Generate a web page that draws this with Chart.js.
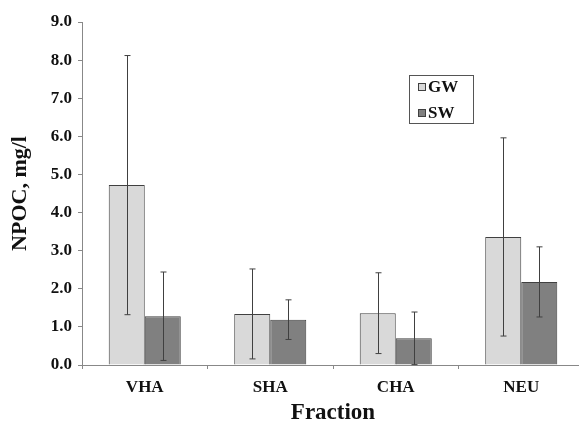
<!DOCTYPE html>
<html>
<head>
<meta charset="utf-8">
<script src="https://cdn.jsdelivr.net/npm/chart.js@4"></script>
<style>
	body { margin: 0; background: #fff; }
	#wrap { width: 579px; height: 422px; overflow: hidden; }
</style>
</head>
<body>
<div id="wrap"><canvas id="npocChart" width="585" height="422"></canvas></div>
<script>
// values (mg/l)
const categories = ['VHA', 'SHA', 'CHA', 'NEU'];
const gwMean = [4.72, 1.34, 1.36, 3.36];
const gwErr = [3.4, 1.18, 1.06, 2.6];
const swMean = [1.28, 1.19, 0.70, 2.18];
const swErr = [1.16, 0.52, 0.69, 0.92];
const yTicks = [0, 1, 2, 3, 4, 5, 6, 7, 8, 9];

const serif = '"Liberation Serif", "Times New Roman", serif';
const edge = '#404040';

// draws the +/- error whiskers from the dataset's err array
const errorBars = {
	id: 'errorBars',
	afterDatasetsDraw(chart) {
		const ctx = chart.ctx;
		const y = chart.scales.y;
		chart.data.datasets.forEach((ds, i) => {
			const meta = chart.getDatasetMeta(i);
			meta.data.forEach((bar, j) => {
				const v = ds.data[j], e = ds.err[j];
				const top = y.getPixelForValue(v + e);
				const bot = y.getPixelForValue(Math.max(0, v - e));
				const x = Math.round(bar.x) + 0.5;
				ctx.save();
				ctx.strokeStyle = edge;
				ctx.lineWidth = 1;
				ctx.beginPath();
				ctx.moveTo(x, top);
				ctx.lineTo(x, bot);
				ctx.moveTo(x - 3, top);
				ctx.lineTo(x + 3, top);
				ctx.moveTo(x - 3, bot);
				ctx.lineTo(x + 3, bot);
				ctx.stroke();
				ctx.restore();
			});
		});
	}
};

// boxed legend sitting inside the plot, like the original
const boxLegend = {
	id: 'boxLegend',
	afterDraw(chart) {
		const ctx = chart.ctx;
		ctx.save();
		ctx.strokeStyle = '#555';
		ctx.lineWidth = 1;
		ctx.strokeRect(409.5, 75.5, 64, 48);
		ctx.font = 'bold 17px ' + serif;
		ctx.textBaseline = 'middle';
		chart.data.datasets.forEach((ds, i) => {
			const cy = 87 + i * 26;
			ctx.fillStyle = ds.backgroundColor;
			ctx.fillRect(418, cy - 4, 8, 8);
			ctx.strokeStyle = edge;
			ctx.strokeRect(418.5, cy - 3.5, 7, 7);
			ctx.fillStyle = '#111';
			ctx.fillText(ds.label, 428, cy + 1);
		});
		ctx.restore();
	}
};

new Chart(document.getElementById('npocChart').getContext('2d'), {
	type: 'bar',
	data: {
		labels: categories,
		datasets: [{
			label: 'GW',
			data: gwMean,
			err: gwErr,
			backgroundColor: '#d9d9d9',
			borderColor: edge,
			borderWidth: 1
		}, {
			label: 'SW',
			data: swMean,
			err: swErr,
			backgroundColor: '#808080',
			borderColor: edge,
			borderWidth: 1
		}]
	},
	options: {
		responsive: false,
		animation: false,
		categoryPercentage: 0.574,
		barPercentage: 1,
		layout: { padding: { top: 22, right: 1, left: 0, bottom: 0 } },
		plugins: {
			legend: { display: false },
			tooltip: { enabled: false }
		},
		scales: {
			x: {
				grid: { offset: true, drawOnChartArea: false, drawTicks: true, tickLength: 4, color: '#888' },
				border: { color: '#888' },
				ticks: { color: '#111', padding: 8, font: { family: serif, size: 17, weight: 'bold' } },
				title: { display: true, text: 'Fraction', color: '#111', padding: { top: 0, bottom: -5 },
					font: { family: serif, size: 23, weight: 'bold' } },
				afterFit(scale) { scale.height = 57; }
			},
			y: {
				min: 0,
				max: 9,
				afterBuildTicks(scale) { scale.ticks = yTicks.map(v => ({ value: v })); },
				grid: { drawOnChartArea: false, drawTicks: true, tickLength: 4, color: '#888' },
				border: { color: '#888' },
				ticks: { color: '#111', padding: 6, font: { family: serif, size: 17, weight: 'bold' },
					callback: v => Number(v).toFixed(1) },
				title: { display: true, text: 'NPOC, mg/l', color: '#111', padding: { top: 7, bottom: 0 },
					font: { family: serif, size: 22, weight: 'bold' } },
				afterFit(scale) { scale.width = 82; }
			}
		}
	},
	plugins: [errorBars, boxLegend]
});
</script>
</body>
</html>
